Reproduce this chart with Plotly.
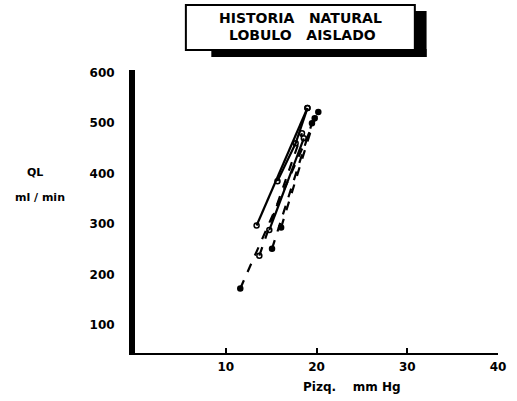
import plotly.graph_objects as go

# Data (Pizq mmHg vs QL ml/min)
series_x = [
    [13.4, 19.0],
    [15.7, 17.7, 19.0],
    [14.8, 18.6],
    [11.6, 20.2],
    [13.7, 18.4],
    [15.1, 19.5],
    [16.1, 19.8],
]
series_y = [
    [297, 530],
    [385, 460, 530],
    [288, 470],
    [172, 522],
    [237, 480],
    [251, 500],
    [293, 510],
]
series_dash = ["solid", "solid", "solid", "dash", "dash", "dash", "dash"]
series_symbol = ["circle-open", "circle-open", "circle-open", "circle", "circle-open", "circle", "circle"]

x_ticks = [10, 20, 30, 40]
y_ticks = [100, 200, 300, 400, 500, 600]
y_ticklabels = ["100", "200", "300", "400", "500", "600"]

FONT = "DejaVu Sans"
W, H = 517, 401
L, R, T, B = 135, 11, 70, 48
pw, ph = W - L - R, H - T - B

def px(x):
    return (x - L) / pw

def py(y):
    return (H - B - y) / ph

fig = go.Figure()
for xs, ys, d, s in zip(series_x, series_y, series_dash, series_symbol):
    fig.add_trace(go.Scatter(
        x=xs, y=ys, mode="lines+markers",
        line=dict(color="black", width=2.2, dash=d),
        marker=dict(symbol=s, size=5, color="black", line=dict(color="black", width=1.5)),
        showlegend=False,
    ))

shapes = [
    # shadow of title box
    dict(type="rect", xref="paper", yref="paper", x0=px(213), x1=px(433), y0=py(57), y1=py(49),
         fillcolor="black", line=dict(width=0), layer="above"),
    dict(type="rect", xref="paper", yref="paper", x0=px(419), x1=px(433), y0=py(57), y1=py(11),
         fillcolor="black", line=dict(width=0), layer="above"),
    # title box
    dict(type="rect", xref="paper", yref="paper", x0=px(187), x1=px(421), y0=py(50), y1=py(5),
         fillcolor="white", line=dict(color="black", width=2), layer="above"),
]

annotations = [
    dict(text="<b>HISTORIA   NATURAL</b>", xref="paper", yref="paper",
         x=px(304), y=py(18), showarrow=False, font=dict(family=FONT, size=14, color="black"),
         xanchor="center", yanchor="middle"),
    dict(text="<b>LOBULO   AISLADO</b>", xref="paper", yref="paper",
         x=px(306), y=py(35), showarrow=False, font=dict(family=FONT, size=14, color="black"),
         xanchor="center", yanchor="middle"),
    dict(text="<b>QL</b>", xref="paper", yref="paper", x=px(33), y=py(172),
         showarrow=False, font=dict(family=FONT, size=11, color="black"),
         xanchor="center", yanchor="middle"),
    dict(text="<b>ml / min</b>", xref="paper", yref="paper", x=px(38), y=py(197),
         showarrow=False, font=dict(family=FONT, size=11, color="black"),
         xanchor="center", yanchor="middle"),
    dict(text="<b>Pizq.    mm Hg</b>", xref="paper", yref="paper", x=px(357), y=py(387),
         showarrow=False, font=dict(family=FONT, size=12, color="black"),
         xanchor="center", yanchor="middle"),
]

fig.update_layout(
    width=W, height=H,
    margin=dict(l=L, r=R, t=T, b=B),
    paper_bgcolor="white", plot_bgcolor="white",
    shapes=shapes, annotations=annotations,
    xaxis=dict(range=[0, 40], tickvals=x_ticks, ticktext=["<b>%d</b>" % v for v in x_ticks],
               showgrid=False, zeroline=False, showline=True, linecolor="black", linewidth=2,
               ticks="inside", ticklen=5, tickwidth=2, tickcolor="black",
               tickfont=dict(family=FONT, size=12, color="black"), ticklabelstandoff=2),
    yaxis=dict(range=[44, 605.5], tickvals=y_ticks, ticktext=["<b>%s</b>" % t for t in y_ticklabels],
               showgrid=False, zeroline=False, showline=True, linecolor="black", linewidth=6,
               ticks="", tickfont=dict(family=FONT, size=12, color="black"),
               ticklabelstandoff=12),
    font=dict(family=FONT, color="black"),
)

fig.write_html("out.html")
